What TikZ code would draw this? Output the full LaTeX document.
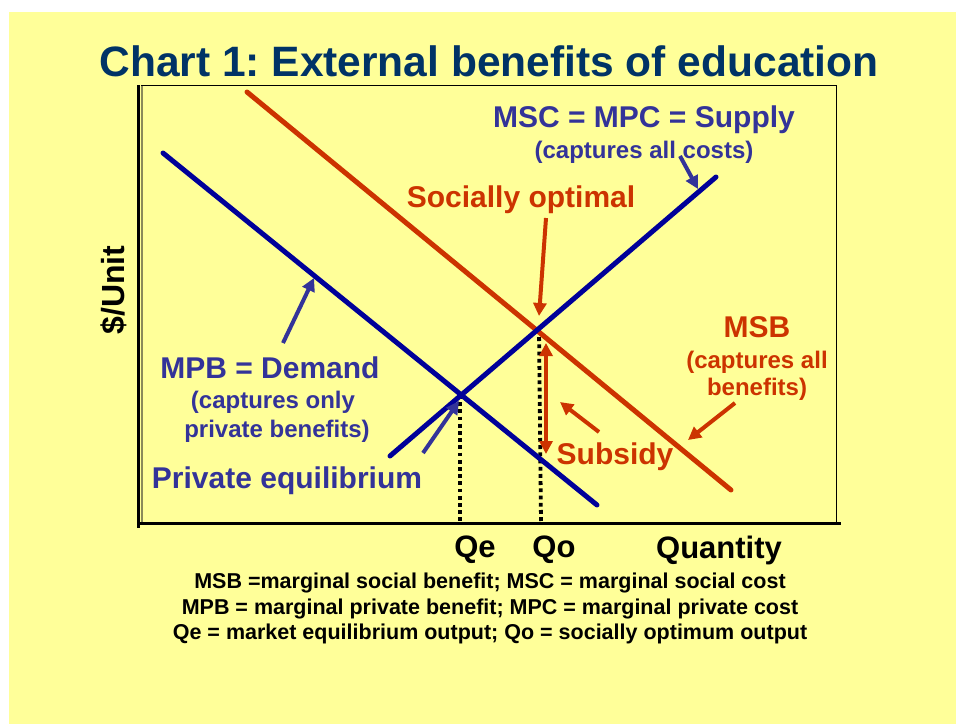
\documentclass[tikz,border=0pt]{standalone}
\usepackage{fontspec}
\setmainfont{Liberation Sans}
\usetikzlibrary{arrows.meta}
\frenchspacing

\definecolor{paper}{HTML}{FFFF99}
\definecolor{titleblue}{HTML}{003366}
\definecolor{labelblue}{HTML}{333399}
\definecolor{curveblue}{HTML}{000099}
\definecolor{socialred}{HTML}{CC3300}
\definecolor{axisshade}{HTML}{8A8A5A}

\tikzset{
  curve/.style={line width=5pt, line cap=round},
  pointer/.style={line width=4pt, -{Triangle[length=13pt,width=13pt]}},
  twoway/.style={line width=4pt, {Triangle[length=13pt,width=13pt]}-{Triangle[length=13pt,width=13pt]}},
  dropline/.style={line width=3.8pt, dash pattern=on 3.8pt off 3.4pt, black},
  bigtxt/.style={font=\bfseries\fontsize{30}{32}\selectfont, anchor=base, inner sep=0pt},
  subtxt/.style={font=\bfseries\fontsize{24}{26}\selectfont, anchor=base, inner sep=0pt},
  axistxt/.style={font=\bfseries\fontsize{31}{33}\selectfont, anchor=base, inner sep=0pt},
  notetxt/.style={font=\bfseries\fontsize{21.5}{23}\selectfont, anchor=base, inner sep=0pt},
}

\begin{document}
\begin{tikzpicture}[x=1pt,y=-1pt]
  % page and slide background
  \useasboundingbox (0,0) rectangle (956,724);
  \fill[white] (0,0) rectangle (956,724);
  \fill[paper] (9,12) rectangle (956,724);

  % title
  \node[font=\bfseries\fontsize{42.5}{44}\selectfont, text=titleblue, anchor=base, inner sep=0pt] (title) at (489,76) {Chart 1: External benefits of education};

  % plot frame and axes
  \draw[line width=1pt] (141,85.5) rectangle (836,523);
  \draw[axisshade, line width=2pt] (141.5,86) -- (141.5,523);
  \draw[line width=2.2pt] (138.5,85) -- (138.5,528);
  \draw[line width=3pt] (137,523.5) -- (841,523.5);

  % curve end points
  \coordinate (msbA) at (247,92);
  \coordinate (msbB) at (731,490);
  \coordinate (mpbA) at (163,153);
  \coordinate (mpbB) at (597,505);
  \coordinate (supA) at (390,456);
  \coordinate (supB) at (716,177);

  % equilibrium points and their feet on the quantity axis
  \coordinate (eqP) at (460,395);
  \coordinate (eqS) at (539,330);
  \coordinate (footP) at (460,522);
  \coordinate (footS) at (541,522);

  % dotted guides down to Qe and Qo
  \draw[dropline] (eqP) -- (footP);
  \draw[dropline] (eqS) -- (footS);

  % the three curves
  \draw[curve, socialred] (msbA) -- (msbB);
  \draw[curve, curveblue] (mpbA) -- (mpbB);
  \draw[curve, curveblue] (supA) -- (supB);

  % subsidy gap between MSB and MPB at Qo
  \coordinate (gapTop) at (546,343);
  \coordinate (gapBot) at (546,454);
  \draw[twoway, socialred] (gapTop) -- (gapBot);

  % labels
  \node[bigtxt, text=labelblue] (msc) at (644,127) {MSC = MPC = Supply};
  \node[subtxt, text=labelblue] (mscnote) at (644,158) {(captures all costs)};
  \node[bigtxt, text=socialred] (optimal) at (521,207) {Socially optimal};
  \node[bigtxt, text=socialred] (msb) at (757,337) {MSB};
  \node[subtxt, text=socialred] (msbnote1) at (757,368) {(captures all};
  \node[subtxt, text=socialred] (msbnote2) at (757,395) {benefits)};
  \node[bigtxt, text=labelblue] (mpb) at (270,378) {MPB = Demand};
  \node[subtxt, text=labelblue] (mpbnote1) at (273,408) {(captures only};
  \node[subtxt, text=labelblue] (mpbnote2) at (277,437) {private benefits)};
  \node[bigtxt, text=labelblue] (private) at (287,488) {Private equilibrium};
  \node[bigtxt, text=socialred] (subsidy) at (615,464) {Subsidy};

  % axis labels
  \node[axistxt, font=\bfseries\fontsize{32}{34}\selectfont, rotate=90] (yaxis) at (124,290) {\$/Unit};
  \node[axistxt] (qe) at (475,557) {Qe};
  \node[axistxt] (qo) at (554,557) {Qo};
  \node[axistxt] (qty) at (719,558) {Quantity};

  % glossary
  \node[notetxt] (note1) at (490,588) {MSB =marginal social benefit; MSC = marginal social cost};
  \node[notetxt] (note2) at (490,614) {MPB = marginal private benefit; MPC = marginal private cost};
  \node[notetxt] (note3) at (490,639) {Qe = market equilibrium output; Qo = socially optimum output};

  % pointers from labels to the curves
  \coordinate (mscTail) at (680,156);
  \coordinate (mscTip) at (698,189);
  \draw[pointer, labelblue] (mscTail) -- (mscTip);
  \coordinate (optTail) at (546,218);
  \coordinate (optTip) at (539,316);
  \draw[pointer, socialred] (optTail) -- (optTip);
  \coordinate (msbTail) at (735,403);
  \coordinate (msbTip) at (688,440);
  \draw[pointer, socialred] (msbTail) -- (msbTip);
  \coordinate (mpbTail) at (283,343);
  \coordinate (mpbTip) at (314,278);
  \draw[pointer, labelblue] (mpbTail) -- (mpbTip);
  \coordinate (privTail) at (423,453);
  \coordinate (privTip) at (459,401);
  \draw[pointer, labelblue] (privTail) -- (privTip);
  \coordinate (subTail) at (599,432);
  \coordinate (subTip) at (560,402);
  \draw[pointer, socialred] (subTail) -- (subTip);
\end{tikzpicture}
\end{document}
